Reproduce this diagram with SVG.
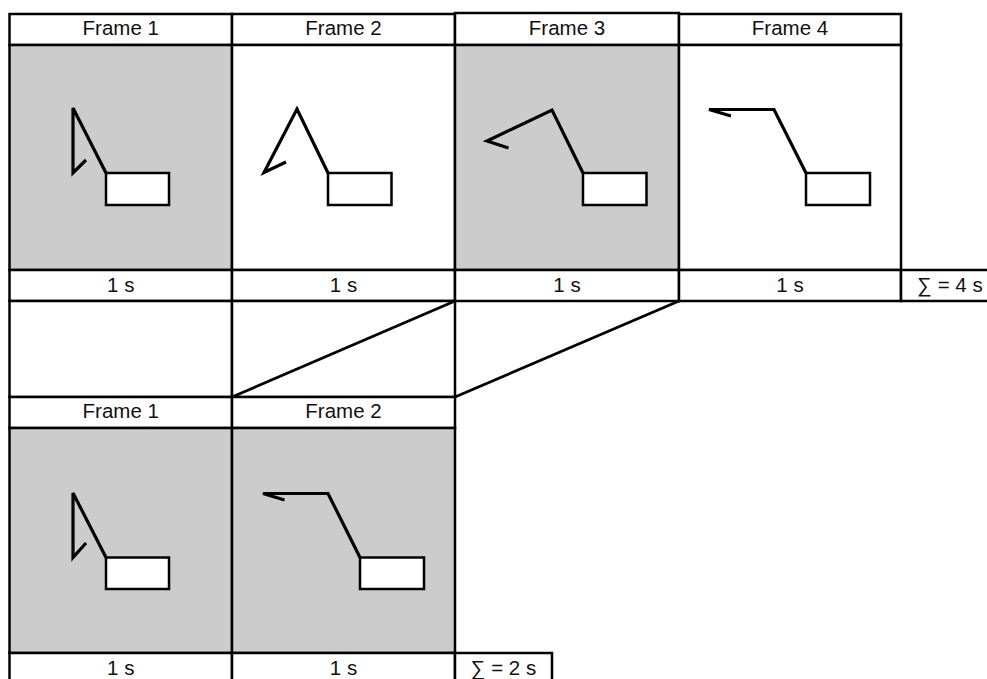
<svg xmlns="http://www.w3.org/2000/svg" width="987" height="679" viewBox="0 0 987 679">
  <style>
    .cell { fill: #ffffff; stroke: #000000; stroke-width: 2.5; }
    .img-grey { fill: #cccccc; stroke: #000000; stroke-width: 2.5; }
    .img-white { fill: #ffffff; stroke: #000000; stroke-width: 2.5; }
    .lbl { font-family: "Liberation Sans", Arial, sans-serif; font-size: 20.5px; fill: #111111; text-anchor: middle; }
    .arm { fill: none; stroke: #000000; stroke-width: 3.2; stroke-linejoin: miter; stroke-linecap: butt; }
    .box { fill: #ffffff; stroke: #000000; stroke-width: 2.5; }
    .link { fill: none; stroke: #000000; stroke-width: 2.8; }
  </style>

  <rect x="0" y="0" width="987" height="679" fill="#ffffff"/>

  <!-- Top strip: four frames, 1 s each -->
  <g id="top-frame-1">
    <rect class="cell" x="9.5" y="14" width="222.5" height="31"/>
    <rect class="img-grey" x="9.5" y="45" width="222.5" height="225"/>
    <rect class="cell" x="9.5" y="270" width="222.5" height="31"/>
    <text class="lbl" x="120.75" y="35">Frame 1</text>
    <text class="lbl" x="120.75" y="292">1 s</text>
    <polyline class="arm" points="106,173 73,108 73,173 86,160"/>
    <rect class="box" x="106" y="173" width="63" height="32"/>
  </g>

  <g id="top-frame-2">
    <rect class="cell" x="232" y="14" width="223" height="31"/>
    <rect class="img-white" x="232" y="45" width="223" height="225"/>
    <rect class="cell" x="232" y="270" width="223" height="31"/>
    <text class="lbl" x="343.5" y="35">Frame 2</text>
    <text class="lbl" x="343.5" y="292">1 s</text>
    <polyline class="arm" points="328,173 297,109 264,172.5 286,162"/>
    <rect class="box" x="328" y="173" width="63.5" height="32"/>
  </g>

  <g id="top-frame-3">
    <rect class="cell" x="455" y="13" width="224" height="32"/>
    <rect class="img-grey" x="455" y="45" width="224" height="225"/>
    <rect class="cell" x="455" y="270" width="224" height="31"/>
    <text class="lbl" x="567" y="35">Frame 3</text>
    <text class="lbl" x="567" y="292">1 s</text>
    <polyline class="arm" points="583,173 552,110 487,141 508.5,148"/>
    <rect class="box" x="583" y="173" width="63.5" height="32"/>
  </g>

  <g id="top-frame-4">
    <rect class="cell" x="679" y="14" width="222" height="31"/>
    <rect class="img-white" x="679" y="45" width="222" height="225"/>
    <rect class="cell" x="679" y="270" width="222" height="31"/>
    <text class="lbl" x="790" y="35">Frame 4</text>
    <text class="lbl" x="790" y="292">1 s</text>
    <polyline class="arm" points="806,173 774,109.5 709,109.5 731,116"/>
    <rect class="box" x="806" y="173" width="64" height="32"/>
  </g>

  <g id="top-total">
    <rect class="cell" x="901" y="270" width="92" height="31"/>
    <text class="lbl" x="950" y="292">∑ = 4 s</text>
  </g>

  <!-- Empty spacer cells under frames 1 and 2 -->
  <g id="spacer">
    <rect class="cell" x="9.5" y="301" width="222.5" height="96"/>
    <rect class="cell" x="232" y="301" width="223" height="96"/>
  </g>

  <!-- Connectors: frames 3 and 4 map into the shortened strip -->
  <g id="connectors">
    <line class="link" x1="455" y1="301" x2="232" y2="397"/>
    <line class="link" x1="679" y1="301" x2="455" y2="397"/>
  </g>

  <!-- Bottom strip: two frames, 1 s each -->
  <g id="bottom-frame-1">
    <rect class="cell" x="9.5" y="397" width="222.5" height="31"/>
    <rect class="img-grey" x="9.5" y="428" width="222.5" height="225"/>
    <rect class="cell" x="9.5" y="653" width="222.5" height="31"/>
    <text class="lbl" x="120.75" y="418">Frame 1</text>
    <text class="lbl" x="120.75" y="675">1 s</text>
    <polyline class="arm" points="106,557.5 73,493 73,557.5 86,543"/>
    <rect class="box" x="106" y="557.5" width="63" height="31.5"/>
  </g>

  <g id="bottom-frame-2">
    <rect class="cell" x="232" y="397" width="223" height="31"/>
    <rect class="img-grey" x="232" y="428" width="223" height="225"/>
    <rect class="cell" x="232" y="653" width="223" height="31"/>
    <text class="lbl" x="343.5" y="418">Frame 2</text>
    <text class="lbl" x="343.5" y="675">1 s</text>
    <polyline class="arm" points="360,557.5 328,493.5 263,493.5 284.5,500"/>
    <rect class="box" x="360" y="557.5" width="64" height="31.5"/>
  </g>

  <g id="bottom-total">
    <rect class="cell" x="455" y="653" width="97" height="31"/>
    <text class="lbl" x="503.5" y="675">∑ = 2 s</text>
  </g>
</svg>
